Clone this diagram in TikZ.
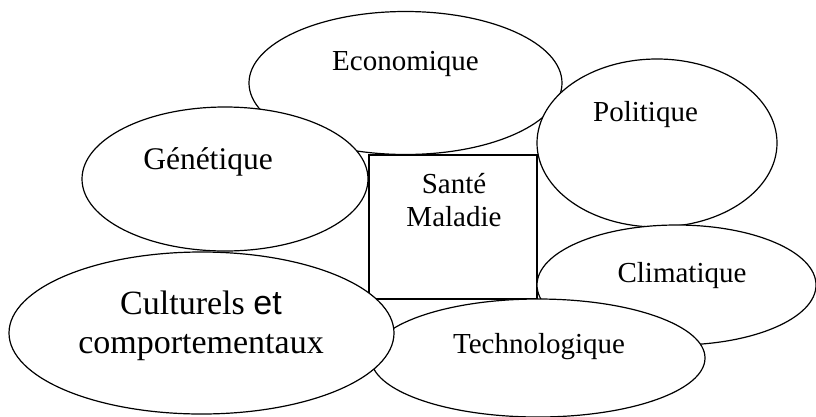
\documentclass[tikz,border=0pt]{standalone}
\usepackage{fontspec}
\setmainfont{Liberation Serif}
\newfontfamily\arialfont{Liberation Sans}
\usetikzlibrary{shapes.geometric}
\begin{document}
\begin{tikzpicture}[x=1pt,y=-1pt,
  bubble/.style={ellipse, draw, fill=white, line width=1.2pt, inner sep=0pt},
  frame/.style={rectangle, draw, fill=white, line width=1.2pt, inner sep=0pt},
  caption/.style={anchor=base, inner sep=0pt, align=center, font=\fontsize{29}{33}\selectfont}]
\useasboundingbox (0,0) rectangle (816,416);
\clip (0,0) rectangle (816,416);
% factor bubbles, back to front
\node[bubble, minimum width=313pt, minimum height=143pt] (eco) at (405.5,83) {};
\node[bubble, minimum width=240pt, minimum height=168pt] (pol) at (657,143) {};
\node[bubble, minimum width=286pt, minimum height=144pt] (gen) at (225,179) {};
\node[frame, minimum width=168pt, minimum height=144pt] (sante) at (453,227) {};
\node[bubble, minimum width=279pt, minimum height=120pt] (cli) at (676.5,285) {};
\node[bubble, minimum width=334pt, minimum height=118pt] (tec) at (538,358) {};
\node[bubble, minimum width=385pt, minimum height=162pt] (cul) at (201.5,333) {};
% labels (base anchor sits on the last line of a two-line label)
\node[caption] (ecoT) at (405.5,70) {Economique};
\node[caption] (polT) at (645.5,121) {Politique};
\node[caption, font=\fontsize{31.5}{36}\selectfont] (genT) at (208,169) {Génétique};
\node[caption] (santeT) at (454,226) {Santé\\Maladie};
\node[caption] (cliT) at (682,282) {Climatique};
\node[caption] (tecT) at (539,353) {Technologique};
\node[caption, font=\fontsize{34}{39}\selectfont] (culT) at (201,353) {Culturels {\arialfont et}\\comportementaux};
\end{tikzpicture}
\end{document}
